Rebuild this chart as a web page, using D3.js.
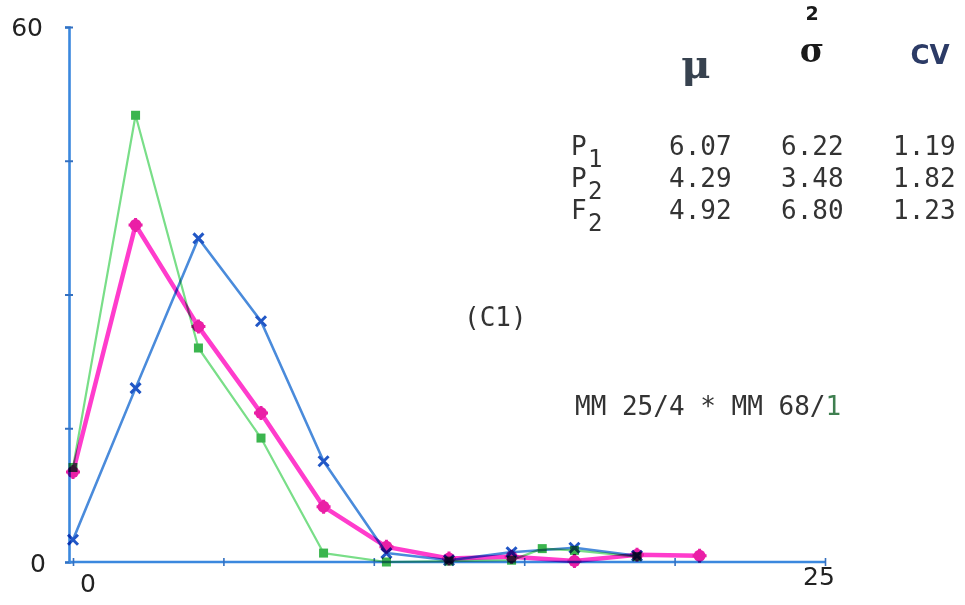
<!DOCTYPE html>
<html><head><meta charset="utf-8">
<script src="https://cdn.jsdelivr.net/npm/d3@7"></script>
<style>
html,body{margin:0;padding:0;background:#fff;}
svg{display:block;}
.mono{font-family:"DejaVu Sans Mono",monospace;fill:#333;}
</style></head>
<body>
<svg id="c" width="965" height="605"></svg>
<script>
// ---- data ----
const classX = [0, 2.08, 4.17, 6.25, 8.33, 10.42, 12.5, 14.58, 16.67, 18.75, 20.83];
const greenX = [0, 2.08, 4.17, 6.25, 8.33, 10.42, 12.5, 14.58, 15.6, 16.67, 18.75];
const greenP1 = [10.6, 50.1, 24.0, 13.9, 1.0, 0.0, 0.1, 0.2, 1.5, 1.3, 0.6];
const pinkF2  = [10.1, 37.8, 26.4, 16.7, 6.2, 1.7, 0.4, 0.6, 0.1, 0.8, 0.7];
const blueX   = classX.slice(0, 10);
const blueP2  = [2.5, 19.5, 36.3, 27.0, 11.3, 1.0, 0.2, 1.1, 1.6, 0.7];
const yTicks = [0, 15, 30, 45, 60];
const xTicks = [0, 5, 10, 15, 20, 25];
const yLabels = ["60", "0"];
const xLabels = ["0", "25"];
const tableRows = ["P", "P", "F"];
const tableSubs = ["1", "2", "2"];
const muVals = ["6.07", "4.29", "4.92"];
const varVals = ["6.22", "3.48", "6.80"];
const cvVals = ["1.19", "1.82", "1.23"];

const svg = d3.select("#c");
const x = d3.scaleLinear().domain([0, 25]).range([73, 825]);
const y = d3.scaleLinear().domain([0, 60]).range([562, 27]);
const axisCol = "#3b88de";

// y axis
const ya = svg.append("g").attr("transform", "translate(69,0)")
  .call(d3.axisLeft(y).tickValues(yTicks).tickSize(4).tickFormat(""));
ya.select(".domain").attr("stroke", axisCol).attr("stroke-width", 2.6);
ya.selectAll(".tick line").attr("stroke", "#3470c0").attr("stroke-width", 2).attr("x1", -4).attr("x2", 4);

// x axis
const xa = svg.append("g").attr("transform", "translate(0,562)")
  .call(d3.axisBottom(x).tickValues(xTicks).tickSize(4).tickFormat(""));
xa.select(".domain").attr("stroke", axisCol).attr("stroke-width", 2.6)
  .attr("d", `M69,0H${x(25)}`);
xa.selectAll(".tick line").attr("stroke", "#3470c0").attr("stroke-width", 1.6).attr("y1", -4).attr("y2", 4);

// axis labels
const lab = svg.append("g").style("font-family", "'DejaVu Sans',sans-serif").style("font-size", "25px").attr("fill", "#222");
lab.append("text").attr("x", 43).attr("y", y(60) + 9).attr("text-anchor", "end").text(yLabels[0]);
lab.append("text").attr("x", 46).attr("y", y(0) + 10).attr("text-anchor", "end").text(yLabels[1]);
lab.append("text").attr("x", x(0) + 15).attr("y", 592).attr("text-anchor", "middle").text(xLabels[0]);
lab.append("text").attr("x", x(25) - 6).attr("y", 585).attr("text-anchor", "middle").text(xLabels[1]);

// series
const line = d3.line().x(d => x(d[0])).y(d => y(d[1]));
function series(xs, vs, col, w, mcol, shape) {
  const pts = xs.map((v, i) => [v, vs[i]]);
  const g = svg.append("g").style("mix-blend-mode", "multiply");
  g.append("path").datum(pts).attr("d", line).attr("fill", "none")
    .attr("stroke", col).attr("stroke-width", w).attr("stroke-linejoin", "round");
  const m = g.selectAll("g.m").data(pts).join("g")
    .attr("transform", d => `translate(${x(d[0])},${y(d[1])})`);
  if (shape === "square") {
    m.append("rect").attr("x", -4.5).attr("y", -4.5).attr("width", 9).attr("height", 9).attr("fill", mcol);
  } else if (shape === "circle") {
    m.append("circle").attr("r", 6).attr("fill", mcol);
    m.append("path").attr("d", "M-7,0H7M0,-7V7").attr("stroke", mcol).attr("stroke-width", 3);
  } else {
    m.append("path").attr("d", "M-5,-5L5,5M5,-5L-5,5").attr("stroke", mcol).attr("stroke-width", 3);
  }
}
series(greenX, greenP1, "#79de88", 2.2, "#3bb54e", "square");
series(blueX, blueP2, "#4a8bdb", 2.6, "#2157c6", "x");
series(classX, pinkF2, "#ff3ccc", 4.5, "#ea1fa6", "circle");

// header
const hdr = svg.append("g");
hdr.append("text").attr("x", 696).attr("y", 78).attr("text-anchor", "middle")
  .style("font-family", "'DejaVu Serif',serif").style("font-weight", "bold").style("font-size", "40px")
  .attr("fill", "#37424f").text("μ");
hdr.append("text").attr("x", 812).attr("y", 62).attr("text-anchor", "middle")
  .style("font-family", "'DejaVu Serif',serif").style("font-weight", "bold").style("font-size", "33px")
  .attr("fill", "#1a1a1a").text("σ");
hdr.append("text").attr("x", 812).attr("y", 20).attr("text-anchor", "middle")
  .style("font-family", "'DejaVu Sans',sans-serif").style("font-weight", "bold").style("font-size", "19px")
  .attr("fill", "#1a1a1a").text("2");
hdr.append("text").attr("x", 930).attr("y", 64).attr("text-anchor", "middle")
  .style("font-family", "'DejaVu Sans',sans-serif").style("font-weight", "bold").style("font-size", "26px")
  .attr("fill", "#2c3b66").text("CV");

// table
const tb = svg.append("g").attr("class", "mono").style("font-size", "26px");
tableRows.forEach((r, i) => {
  const by = 155 + i * 32;
  tb.append("text").attr("class", "mono").attr("x", 571).attr("y", by).text(r);
  tb.append("text").attr("class", "mono").attr("x", 588).attr("y", by + 12).style("font-size", "24px").text(tableSubs[i]);
  tb.append("text").attr("class", "mono").attr("x", 669).attr("y", by).text(muVals[i]);
  tb.append("text").attr("class", "mono").attr("x", 781).attr("y", by).text(varVals[i]);
  tb.append("text").attr("class", "mono").attr("x", 893).attr("y", by).text(cvVals[i]);
});

// annotations
svg.append("text").attr("class", "mono").attr("x", 464).attr("y", 326).style("font-size", "26px").text("(C1)");
const mm = svg.append("text").attr("class", "mono").attr("x", 575).attr("y", 415).style("font-size", "26px");
mm.append("tspan").text("MM 25/4 * MM 68/");
mm.append("tspan").attr("fill", "#3f7f50").text("1");
</script>
</body></html>
